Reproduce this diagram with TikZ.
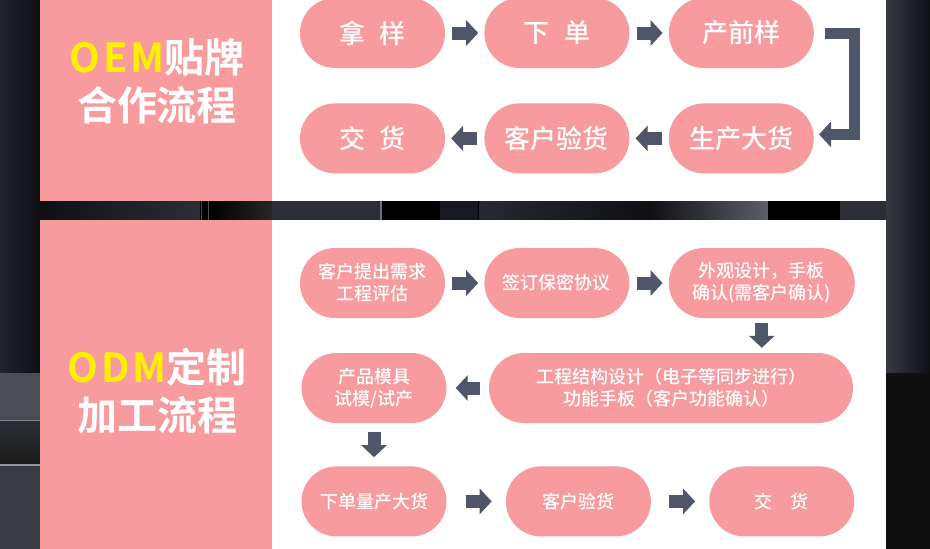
\documentclass[tikz,border=0pt]{standalone}
\usepackage{fontspec}
\setmainfont{Noto Sans CJK SC}[BoldFont={* Bold}]
\newfontfamily\medfont{Noto Sans CJK SC Medium}
\usetikzlibrary{arrows.meta,positioning,shapes.misc}
\definecolor{pillFill}{HTML}{F79B9F}
\definecolor{arrowDraw}{HTML}{4F566A}
\definecolor{titleYellow}{HTML}{FFF000}
\definecolor{bgDark}{HTML}{1F232B}
\definecolor{bgDeep}{HTML}{0E1014}
\definecolor{bgGrey}{HTML}{4A4D55}
\definecolor{bgMid}{HTML}{2B2E35}
\tikzset{
  pill/.style    ={rounded rectangle, fill=pillFill, text=white, align=center,
                   minimum width=145pt, minimum height=70pt, inner sep=0pt},
  bigtxt/.style  ={font=\medfont\fontsize{26}{30}\selectfont},
  smalltxt/.style={font=\medfont\fontsize{18}{22}\selectfont},
  title/.style   ={text=white, align=center, font=\fontsize{40}{48}\selectfont\bfseries},
  arr/.style     ={draw=arrowDraw, line width=13pt, -{Triangle[length=12pt,width=25pt]},
                   shorten <=7pt, shorten >=6pt},
}
\newcommand{\oemgap}{\hspace{0.55em}}

\begin{document}
\begin{tikzpicture}[x=1pt, y=-1pt]
  \useasboundingbox (0,0) rectangle (930,549);
  \clip (0,0) rectangle (930,549);
  % background
  \fill[bgDark] (0,0) rectangle (930,549);
  \shade[left color=bgDark, right color=bgDeep] (0,0) rectangle (40,373);
  \fill[bgGrey] (0,373) rectangle (40,420);
  \fill[bgGrey!70!white] (0,420) rectangle (40,421);
  \shade[top color=bgMid, bottom color=black!90] (0,421) rectangle (40,464);
  \fill[bgGrey!60!white] (0,464) rectangle (40,465.5);
  \fill[bgGrey!110] (0,465.5) rectangle (40,549);
  \shade[left color=bgDark!90!white, right color=bgDeep] (886,0) rectangle (930,373);
  \fill[black!94] (886,373) rectangle (930,549);
  % strip between the panels
  \shade[left color=bgDeep, right color=bgMid] (40,201) rectangle (200,220);
  \fill[black] (200,201) rectangle (209,220);
  \fill[bgGrey] (201,201) rectangle (202,220);
  \fill[bgGrey] (208,201) rectangle (209,220);
  \shade[left color=black, right color=black!85] (209,201) rectangle (272,220);
  \fill[bgMid] (272,201) rectangle (380,220);
  \fill[bgGrey!80!white] (380,201) rectangle (381.5,220);
  \fill[black] (381.5,201) rectangle (440,220);
  \fill[bgMid!110] (440,201) rectangle (478,220);
  \fill[black] (478,201) rectangle (479.5,220);
  \shade[left color=bgMid!90!black, right color=bgDeep] (479.5,201) rectangle (650,220);
  \shade[left color=bgDeep, right color=bgGrey!90] (650,201) rectangle (768,220);
  \fill[black] (768,201) rectangle (840,220);
  \fill[bgMid] (840,201) rectangle (886,220);
  % panels
  \fill[white]    (40,0)   rectangle (886,201);
  \fill[pillFill] (40,0)   rectangle (272,201);
  \fill[white]    (40,220) rectangle (886,549);
  \fill[pillFill] (40,220) rectangle (272,549);

  % OEM
  \node[title] (oemT) at (157,81) {{\color{titleYellow}O\kern3pt E\kern3pt M}贴牌\\合作流程};
  \node[pill, bigtxt] (take) at (372.5,33) {拿\oemgap 样};
  \node[pill, bigtxt, right=39pt of take]  (order) {下\oemgap 单};
  \node[pill, bigtxt, right=39pt of order] (pre)   {产前样};
  \node[pill, bigtxt, below=35pt of pre]   (mass)  {生产大货};
  \node[pill, bigtxt, below=35pt of order] (check) {客户验货};
  \node[pill, bigtxt, below=35pt of take]  (deliv) {交\oemgap 货};

  \draw[arr] (take.east) -- (order.west);
  \draw[arr] (order.east) -- (pre.west);
  \draw[arr, line width=11pt, shorten <=11pt, shorten >=5pt]
        (pre.east) -- ++(40,0) |- ([yshift=4pt]mass.east);
  \draw[arr] (mass.west) -- (check.east);
  \draw[arr] (check.west) -- (deliv.east);

  % ODM
  \node[title] (odmT) at (157,391) {{\color{titleYellow}O\kern3pt D\kern3pt M}定制\\加工流程};
  \node[pill, smalltxt] (req) at (372.5,283) {客户提出需求\\工程评估};
  \node[pill, smalltxt, right=39pt of req] (nda) {签订保密协议};
  \node[pill, smalltxt, right=39pt of nda, minimum width=186pt] (look) {外观设计，手板\\确认(需客户确认)};
  \node[pill, smalltxt] (mould) at (374,388) {产品模具\\试模/试产};
  \node[pill, smalltxt, minimum width=364pt] (struct) at (671,388)
        {工程结构设计（电子等同步进行）\\功能手板（客户功能确认）};
  \node[pill, smalltxt, below=43pt of mould]  (bulk)   {下单量产大货};
  \node[pill, smalltxt, right=59pt of bulk]   (accept) {客户验货};
  \node[pill, smalltxt, right=58pt of accept] (ship)   {交\hspace{1em}货};

  \draw[arr] (req.east) -- (nda.west);
  \draw[arr] (nda.east) -- (look.west);
  \draw[arr, shorten <=5pt, shorten >=5pt] (look.south) -- (look.south |- struct.north);
  \draw[arr, shorten <=9pt, shorten >=9pt] (struct.west) -- (mould.east);
  \draw[arr, shorten <=9pt, shorten >=9pt] (mould.south) -- (bulk.north);
  \draw[arr, shorten <=19pt, shorten >=14pt] (bulk.east) -- (accept.west);
  \draw[arr, shorten <=18pt, shorten >=14pt] (accept.east) -- (ship.west);
\end{tikzpicture}
\end{document}
